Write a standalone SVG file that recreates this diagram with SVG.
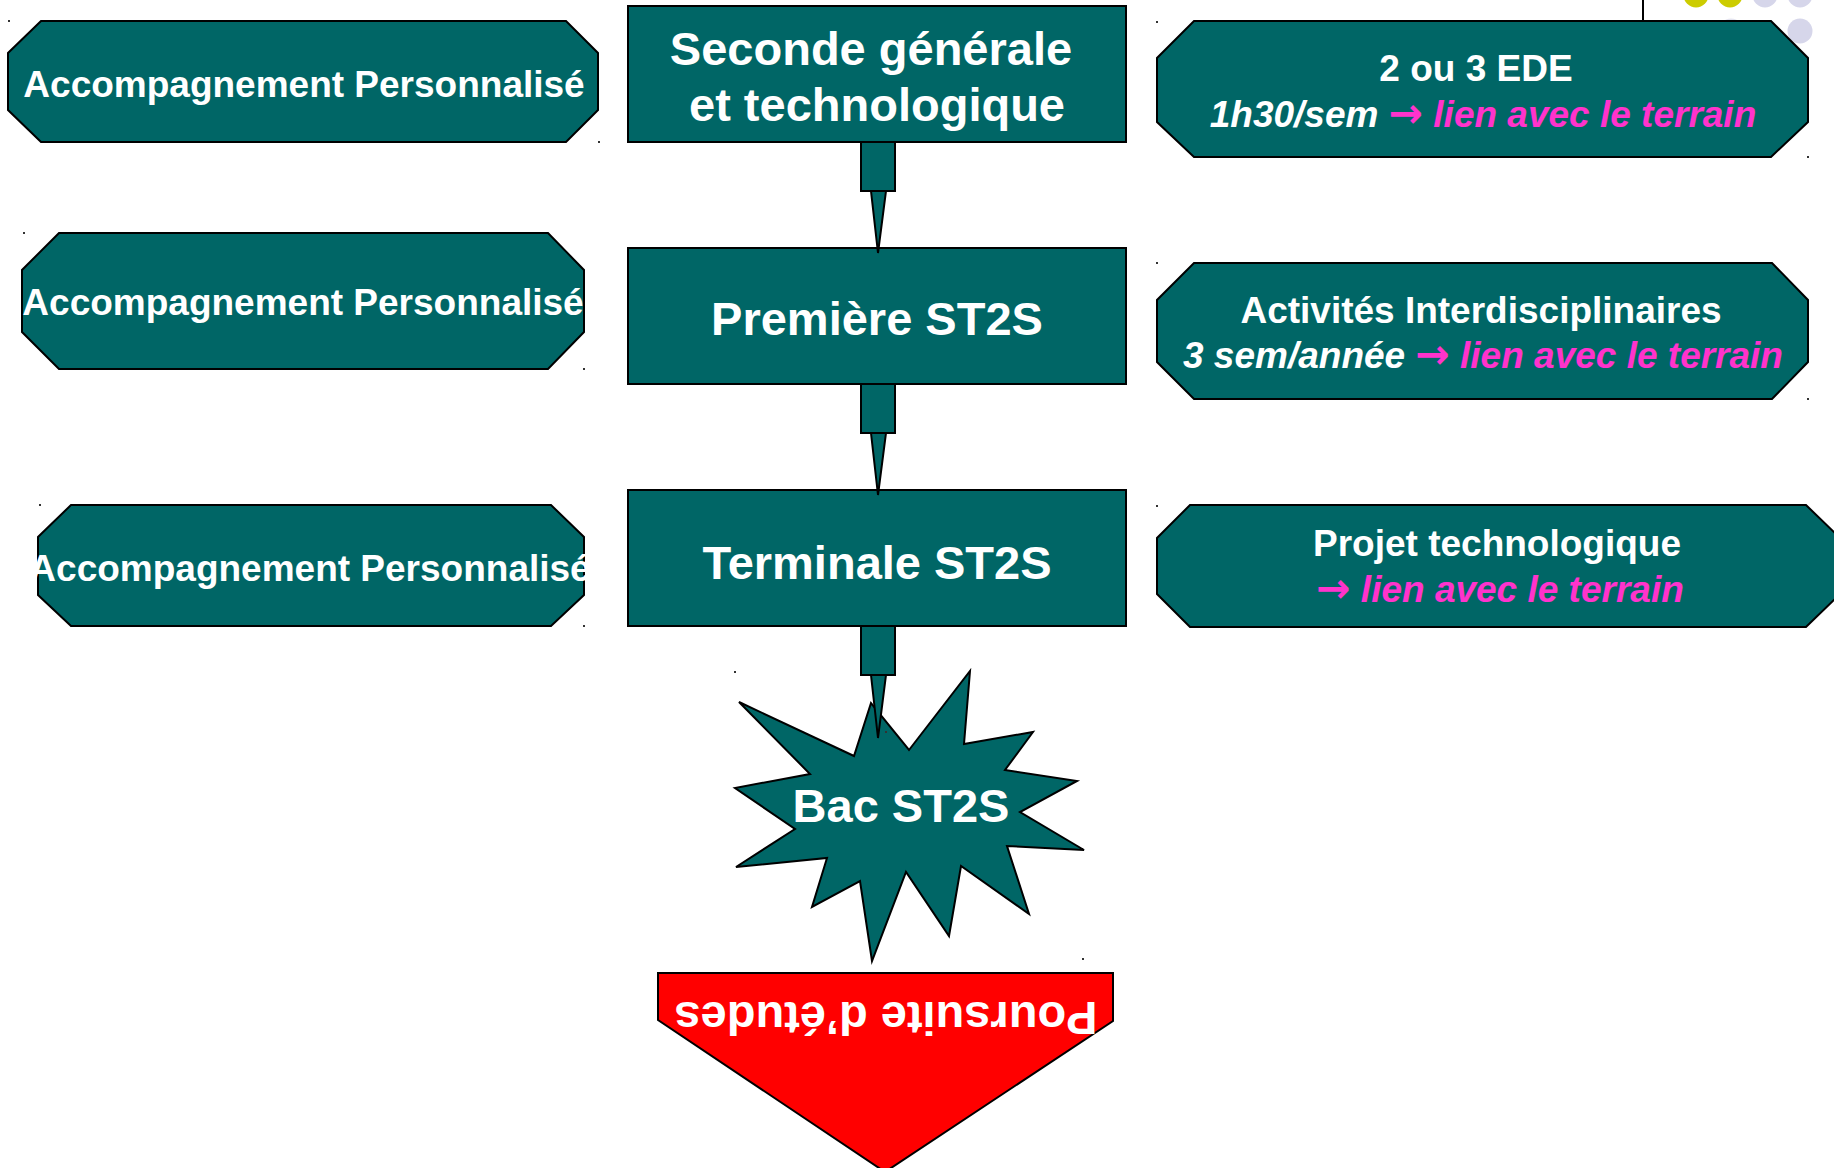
<svg xmlns="http://www.w3.org/2000/svg" width="1834" height="1168" viewBox="0 0 1834 1168">
<style>
.shape{fill:#006666;stroke:#000;stroke-width:2;stroke-linejoin:miter}
.red{fill:#FF0000;stroke:#000;stroke-width:2}
.t{font-family:"Liberation Sans",Arial,sans-serif;font-weight:bold;fill:#fff;text-anchor:middle}
.big{font-size:47px}
.mid{font-size:37px}
.it{font-style:italic}
.pink{fill:#FF33CC}
.arr{font-family:"DejaVu Sans",sans-serif;font-style:normal;font-weight:bold;font-size:41px}
.dot{fill:#333}
</style>
<rect width="1834" height="1168" fill="#fff"/>
<g id="decoration">
<line x1="1643" y1="0" x2="1643" y2="22" stroke="#000" stroke-width="2"/>
<circle cx="1696" cy="-5" r="12.5" fill="#CCCC00"/>
<circle cx="1730" cy="-5" r="12.5" fill="#CCCC00"/>
<circle cx="1765" cy="-5" r="12.5" fill="#D6D6EA"/>
<circle cx="1800" cy="-5" r="12.5" fill="#D6D6EA"/>
<circle cx="1731" cy="31" r="12.5" fill="#E4E4F0"/>
<circle cx="1800" cy="31" r="12.5" fill="#D6D6EA"/>
</g>
<g id="ap1">
<polygon class="shape" points="41,21 566,21 598,53 598,110 566,142 41,142 8,110 8,53"/>
<text class="t mid" x="304" y="97">Accompagnement Personnalisé</text>
</g>
<g id="ap2">
<polygon class="shape" points="59,233 548,233 584,270 584,332 548,369 59,369 22,332 22,270"/>
<text class="t mid" x="303" y="315">Accompagnement Personnalisé</text>
</g>
<g id="ap3">
<polygon class="shape" points="71,505 551,505 584,537 584,595 551,626 71,626 38,595 38,537"/>
<text class="t mid" x="310" y="581">Accompagnement Personnalisé</text>
</g>
<g id="seconde">
<rect class="shape" x="628" y="6" width="498" height="136"/>
<text class="t big" x="871" y="65">Seconde générale</text>
<text class="t big" x="877" y="121">et technologique</text>
</g>
<g id="premiere">
<rect class="shape" x="628" y="248" width="498" height="136"/>
<text class="t big" x="877" y="335">Première ST2S</text>
</g>
<g id="terminale">
<rect class="shape" x="628" y="490" width="498" height="136"/>
<text class="t big" x="877" y="579">Terminale ST2S</text>
</g>
<g id="ede">
<polygon class="shape" points="1194,21 1771,21 1808,58 1808,122 1771,157 1194,157 1157,122 1157,58"/>
<text class="t mid" x="1476" y="81">2 ou 3 EDE</text>
<text class="t mid it" x="1483" y="127">1h30/sem <tspan class="pink arr">→</tspan><tspan class="pink"> lien avec le terrain</tspan></text>
</g>
<g id="activites">
<polygon class="shape" points="1194,263 1772,263 1808,300 1808,362 1772,399 1194,399 1157,362 1157,300"/>
<text class="t mid" x="1481" y="323">Activités Interdisciplinaires</text>
<text class="t mid it" x="1483" y="368">3 sem/année <tspan class="pink arr">→</tspan><tspan class="pink"> lien avec le terrain</tspan></text>
</g>
<g id="projet">
<polygon class="shape" points="1190,505 1806,505 1840,538 1840,594 1806,627 1190,627 1157,594 1157,538"/>
<text class="t mid" x="1497" y="556">Projet technologique</text>
<text class="t mid it pink" x="1500" y="602"><tspan class="arr">→</tspan> lien avec le terrain</text>
</g>
<g id="bac">
<polygon class="shape" points="970,671 964,744 1033,732 1005,770 1077,781 1020,812 1084,850 1007,846 1029,914 961,866 949,936 906,872 872,961 860,881 812,907 827,858 736,867 795,829 735,788 810,774 739,702 854,756 871,703 909,750"/>
<text class="t big" x="901" y="822">Bac ST2S</text>
</g>
<g id="poursuite">
<polygon class="red" points="658,973 1113,973 1113,1021 885,1172 658,1020"/>
<text class="t big" transform="translate(886,1002) rotate(180)" x="0" y="0">Poursuite d’études</text>
</g>
<g id="connectors">
<rect class="shape" x="861" y="142" width="34" height="49"/>
<polygon class="shape" points="871,191 886,191 878,253"/>
<rect class="shape" x="861" y="384" width="34" height="49"/>
<polygon class="shape" points="871,433 886,433 878,495"/>
<rect class="shape" x="861" y="626" width="34" height="49"/>
<polygon class="shape" points="871,675 886,675 878,738"/>
</g>
<g id="dots">
<rect class="dot" x="8" y="20" width="2" height="2"/>
<rect class="dot" x="598" y="141" width="2" height="2"/>
<rect class="dot" x="23" y="232" width="2" height="2"/>
<rect class="dot" x="583" y="368" width="2" height="2"/>
<rect class="dot" x="39" y="504" width="2" height="2"/>
<rect class="dot" x="583" y="625" width="2" height="2"/>
<rect class="dot" x="1156" y="21" width="2" height="2"/>
<rect class="dot" x="1807" y="156" width="2" height="2"/>
<rect class="dot" x="1156" y="262" width="2" height="2"/>
<rect class="dot" x="1807" y="398" width="2" height="2"/>
<rect class="dot" x="1156" y="505" width="2" height="2"/>
<rect class="dot" x="734" y="671" width="2" height="2"/>
<rect class="dot" x="1082" y="958" width="2" height="2"/>
<rect class="dot" x="885" y="731" width="2" height="2"/>
</g>
</svg>
